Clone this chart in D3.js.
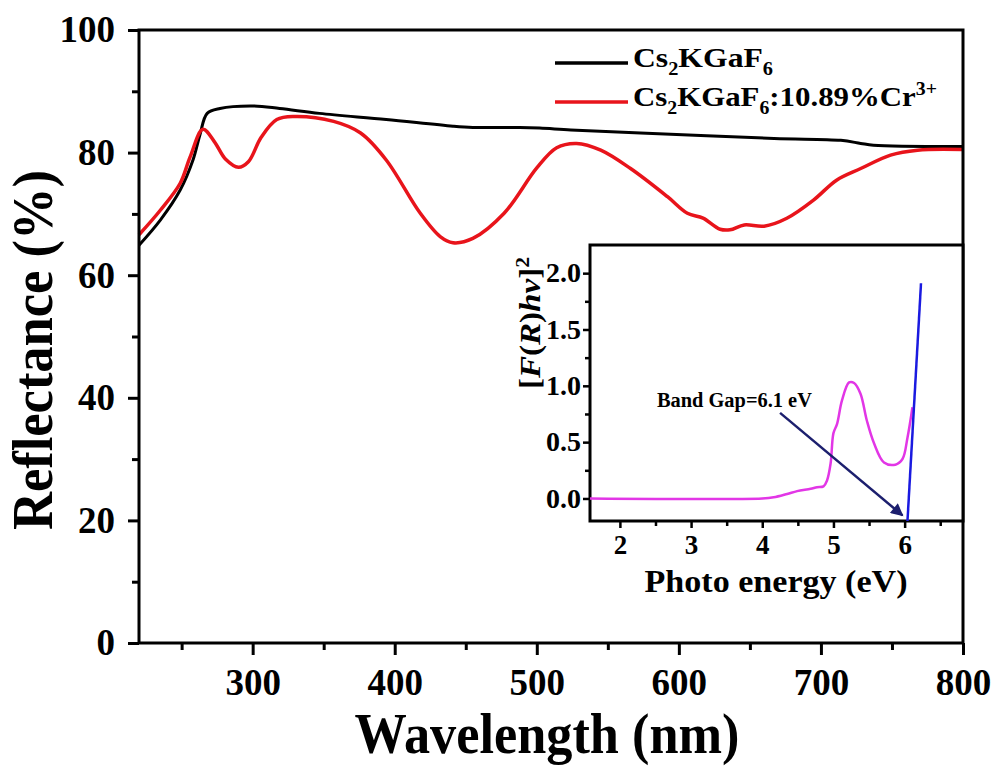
<!DOCTYPE html>
<html>
<head>
<meta charset="utf-8">
<script src="https://cdn.jsdelivr.net/npm/d3@7"></script>
<style>
  html, body { margin: 0; padding: 0; background: #fff; }
  text { font-family: "Liberation Serif", "Times New Roman", serif; font-weight: bold; fill: #000; }
</style>
</head>
<body>
<div id="chart"></div>
<script>
// main chart: reflectance vs wavelength
const hostWave = [220, 235, 249, 258, 263, 268, 277, 300, 319, 347, 394, 441, 455, 488, 502, 524, 573, 667, 714, 728, 737, 800];
const hostRefl = [64.9, 69.0, 73.9, 78.8, 83.0, 86.4, 87.2, 87.6, 87.2, 86.4, 85.4, 84.3, 84.1, 84.1, 84.0, 83.7, 83.2, 82.3, 82.0, 81.5, 81.2, 81.0];

const crWave = [220, 235, 249, 256, 265, 273, 281, 290, 297, 306, 317, 329, 357, 376, 394, 418, 432, 441, 455, 477, 500, 514, 528, 545, 566, 592, 606, 617, 629, 636, 646, 660, 676, 695, 711, 728, 749, 768, 800];
const crRefl = [66.6, 70.6, 75.0, 79.3, 83.8, 81.8, 78.9, 77.6, 78.5, 82.5, 85.4, 85.9, 85.1, 83.2, 78.8, 70.1, 66.3, 65.3, 66.0, 70.1, 77.5, 80.8, 81.5, 80.4, 77.4, 72.8, 70.1, 69.3, 67.5, 67.4, 68.2, 68.0, 69.3, 72.3, 75.5, 77.4, 79.6, 80.4, 80.5];

const xTicks = [300, 400, 500, 600, 700, 800];
const xMinor = [250, 350, 450, 550, 650, 750];
const yTicks = [0, 20, 40, 60, 80, 100];
const yMinor = [10, 30, 50, 70, 90];

// inset: [F(R)hv]^2 vs photon energy
const kmEnergy = [1.58, 4.0, 4.16, 4.35, 4.49, 4.68, 4.77, 4.86, 4.91, 4.96, 5.0, 5.05, 5.12, 5.22, 5.29, 5.38, 5.47, 5.57, 5.71, 5.87, 5.97, 6.04, 6.11];
const kmValue = [0, 0, 0.01, 0.04, 0.065, 0.086, 0.1, 0.107, 0.16, 0.31, 0.58, 0.66, 0.87, 1.03, 1.025, 0.93, 0.69, 0.49, 0.32, 0.30, 0.35, 0.54, 0.81];
const fitEnergy = [6.04, 6.23];
const fitValue = [-0.2, 1.91];

const inXTicks = [2, 3, 4, 5, 6];
const inXMinor = [2.5, 3.5, 4.5, 5.5, 6.5];
const inYTicks = [0, 0.5, 1.0, 1.5, 2.0];
const inYMinor = [0.25, 0.75, 1.25, 1.75];

const bandGap = { text: 'Band Gap=6.1 eV', tx: 2.52, ty: 0.81, x1: 4.25, y1: 0.76, x2: 5.97, y2: -0.15 };

const width = 998, height = 769;
const svg = d3.select('#chart').append('svg')
  .attr('width', width)
  .attr('height', height);

const defs = svg.append('defs');
defs.append('marker')
  .attr('id', 'arrow')
  .attr('viewBox', '0 0 10 10')
  .attr('refX', 9).attr('refY', 5)
  .attr('markerWidth', 7).attr('markerHeight', 5)
  .attr('markerUnits', 'strokeWidth')
  .attr('orient', 'auto')
  .append('path')
  .attr('d', 'M0,0 L10,5 L0,10 Z')
  .attr('fill', '#1c1f6e');

const x = d3.scaleLinear().domain([220, 800]).range([139, 963]);
const y = d3.scaleLinear().domain([0, 100]).range([643, 30]);

// curves
const line = d3.line()
  .x(d => x(d[0]))
  .y(d => y(d[1]))
  .curve(d3.curveCatmullRom.alpha(0.5));

svg.append('path')
  .datum(d3.zip(hostWave, hostRefl))
  .attr('d', line)
  .attr('fill', 'none')
  .attr('stroke', '#000')
  .attr('stroke-width', 3);

svg.append('path')
  .datum(d3.zip(crWave, crRefl))
  .attr('d', line)
  .attr('fill', 'none')
  .attr('stroke', '#e8141b')
  .attr('stroke-width', 3.5);

// frame
svg.append('rect')
  .attr('x', x(220)).attr('y', y(100))
  .attr('width', x(800) - x(220)).attr('height', y(0) - y(100))
  .attr('fill', 'none')
  .attr('stroke', '#000')
  .attr('stroke-width', 3);

function styleTicks(g, size, sw) {
  g.selectAll('.domain').remove();
  g.selectAll('line').attr('stroke', '#000').attr('stroke-width', sw);
  g.selectAll('text')
    .attr('font-size', size)
    .attr('font-family', '"Liberation Serif", serif')
    .attr('font-weight', 'bold')
    .attr('fill', '#000');
}

// X axis
const xAxis = svg.append('g')
  .attr('transform', 'translate(0,' + y(0) + ')');
xAxis.call(d3.axisBottom(x).tickValues(xTicks).tickSize(12).tickPadding(14).tickFormat(d3.format('d')));
xAxis.append('g').call(d3.axisBottom(x).tickValues(xMinor).tickSize(7).tickFormat(''));
styleTicks(xAxis, 37, 3);

// Y axis
const yAxis = svg.append('g')
  .attr('transform', 'translate(' + x(220) + ',0)');
yAxis.call(d3.axisLeft(y).tickValues(yTicks).tickSize(11).tickPadding(13).tickFormat(d3.format('d')));
yAxis.append('g').call(d3.axisLeft(y).tickValues(yMinor).tickSize(7).tickFormat(''));
styleTicks(yAxis, 37, 3);

// axis titles
svg.append('text')
  .attr('x', 547).attr('y', 753)
  .attr('text-anchor', 'middle')
  .attr('font-size', 56)
  .attr('textLength', 385)
  .attr('lengthAdjust', 'spacingAndGlyphs')
  .text('Wavelength (nm)');

svg.append('text')
  .attr('transform', 'translate(52,350) rotate(-90)')
  .attr('text-anchor', 'middle')
  .attr('font-size', 56)
  .attr('textLength', 360)
  .attr('lengthAdjust', 'spacingAndGlyphs')
  .text('Reflectance (%)');

// legend
const legend = svg.append('g');
const legendItems = [
  { color: '#000', yy: 63, parts: [['Cs', 0], ['2', 1], ['KGaF', 0], ['6', 1]], len: 140 },
  { color: '#e8141b', yy: 102, parts: [['Cs', 0], ['2', 1], ['KGaF', 0], ['6', 1], [':10.89%Cr', 0], ['3+', -1]], len: 304 }
];
legendItems.forEach(it => {
  legend.append('line')
    .attr('x1', 555).attr('x2', 628)
    .attr('y1', it.yy).attr('y2', it.yy)
    .attr('stroke', it.color)
    .attr('stroke-width', 3.5);
  const t = legend.append('text')
    .attr('x', 633).attr('y', it.yy + 4)
    .attr('font-size', 28)
    .attr('textLength', it.len)
    .attr('lengthAdjust', 'spacingAndGlyphs');
  let shift = 0;
  it.parts.forEach(p => {
    const target = p[1] === 1 ? 8 : (p[1] === -1 ? -11 : 0);
    t.append('tspan')
      .attr('dy', target - shift)
      .attr('font-size', p[1] === 0 ? 28 : 18)
      .text(p[0]);
    shift = target;
  });
});

// inset
const ix = d3.scaleLinear().domain([1.58, 6.82]).range([590, 963]);
const iy = d3.scaleLinear().domain([-0.2, 2.25]).range([521, 245]);
const inset = svg.append('g');

inset.append('rect')
  .attr('x', ix(1.58)).attr('y', iy(2.25))
  .attr('width', ix(6.82) - ix(1.58)).attr('height', iy(-0.2) - iy(2.25))
  .attr('fill', '#fff')
  .attr('stroke', '#000')
  .attr('stroke-width', 3);

const iline = d3.line()
  .x(d => ix(d[0]))
  .y(d => iy(d[1]))
  .curve(d3.curveCatmullRom.alpha(0.5));

inset.append('path')
  .datum(d3.zip(kmEnergy, kmValue))
  .attr('d', iline)
  .attr('fill', 'none')
  .attr('stroke', '#e236e6')
  .attr('stroke-width', 2.5);

inset.append('path')
  .datum(d3.zip(fitEnergy, fitValue))
  .attr('d', d3.line().x(d => ix(d[0])).y(d => iy(d[1])))
  .attr('fill', 'none')
  .attr('stroke', '#1a1ae0')
  .attr('stroke-width', 2.5);

const ixAxis = inset.append('g')
  .attr('transform', 'translate(0,' + iy(-0.2) + ')');
ixAxis.call(d3.axisBottom(ix).tickValues(inXTicks).tickSize(7).tickPadding(7).tickFormat(d3.format('d')));
ixAxis.append('g').call(d3.axisBottom(ix).tickValues(inXMinor).tickSize(5).tickFormat(''));
styleTicks(ixAxis, 27, 2.5);

const iyAxis = inset.append('g')
  .attr('transform', 'translate(' + ix(1.58) + ',0)');
iyAxis.call(d3.axisLeft(iy).tickValues(inYTicks).tickSize(7).tickPadding(2).tickFormat(d3.format('.1f')));
iyAxis.append('g').call(d3.axisLeft(iy).tickValues(inYMinor).tickSize(5).tickFormat(''));
styleTicks(iyAxis, 27, 2.5);
iyAxis.selectAll('.tick text')
  .attr('textLength', 35)
  .attr('lengthAdjust', 'spacingAndGlyphs');

inset.append('text')
  .attr('x', 776).attr('y', 592)
  .attr('text-anchor', 'middle')
  .attr('font-size', 32)
  .attr('textLength', 263)
  .attr('lengthAdjust', 'spacingAndGlyphs')
  .text('Photo energy (eV)');

const ylab = inset.append('text')
  .attr('transform', 'translate(540,323) rotate(-90)')
  .attr('text-anchor', 'middle')
  .attr('font-size', 29)
  .attr('textLength', 132)
  .attr('lengthAdjust', 'spacingAndGlyphs');
ylab.append('tspan').text('[');
ylab.append('tspan').attr('font-style', 'italic').text('F');
ylab.append('tspan').text('(');
ylab.append('tspan').attr('font-style', 'italic').text('R');
ylab.append('tspan').text(')');
ylab.append('tspan').attr('font-style', 'italic').text('hv');
ylab.append('tspan').text(']');
ylab.append('tspan').attr('dy', -11).attr('font-size', 19).text('2');

// band gap annotation
inset.append('text')
  .attr('x', ix(bandGap.tx)).attr('y', iy(bandGap.ty))
  .attr('font-size', 20)
  .attr('textLength', 155)
  .attr('lengthAdjust', 'spacingAndGlyphs')
  .text(bandGap.text);

inset.append('line')
  .attr('x1', ix(bandGap.x1)).attr('y1', iy(bandGap.y1))
  .attr('x2', ix(bandGap.x2)).attr('y2', iy(bandGap.y2))
  .attr('stroke', '#1c1f6e')
  .attr('stroke-width', 2.5)
  .attr('marker-end', 'url(#arrow)');
</script>
</body>
</html>
